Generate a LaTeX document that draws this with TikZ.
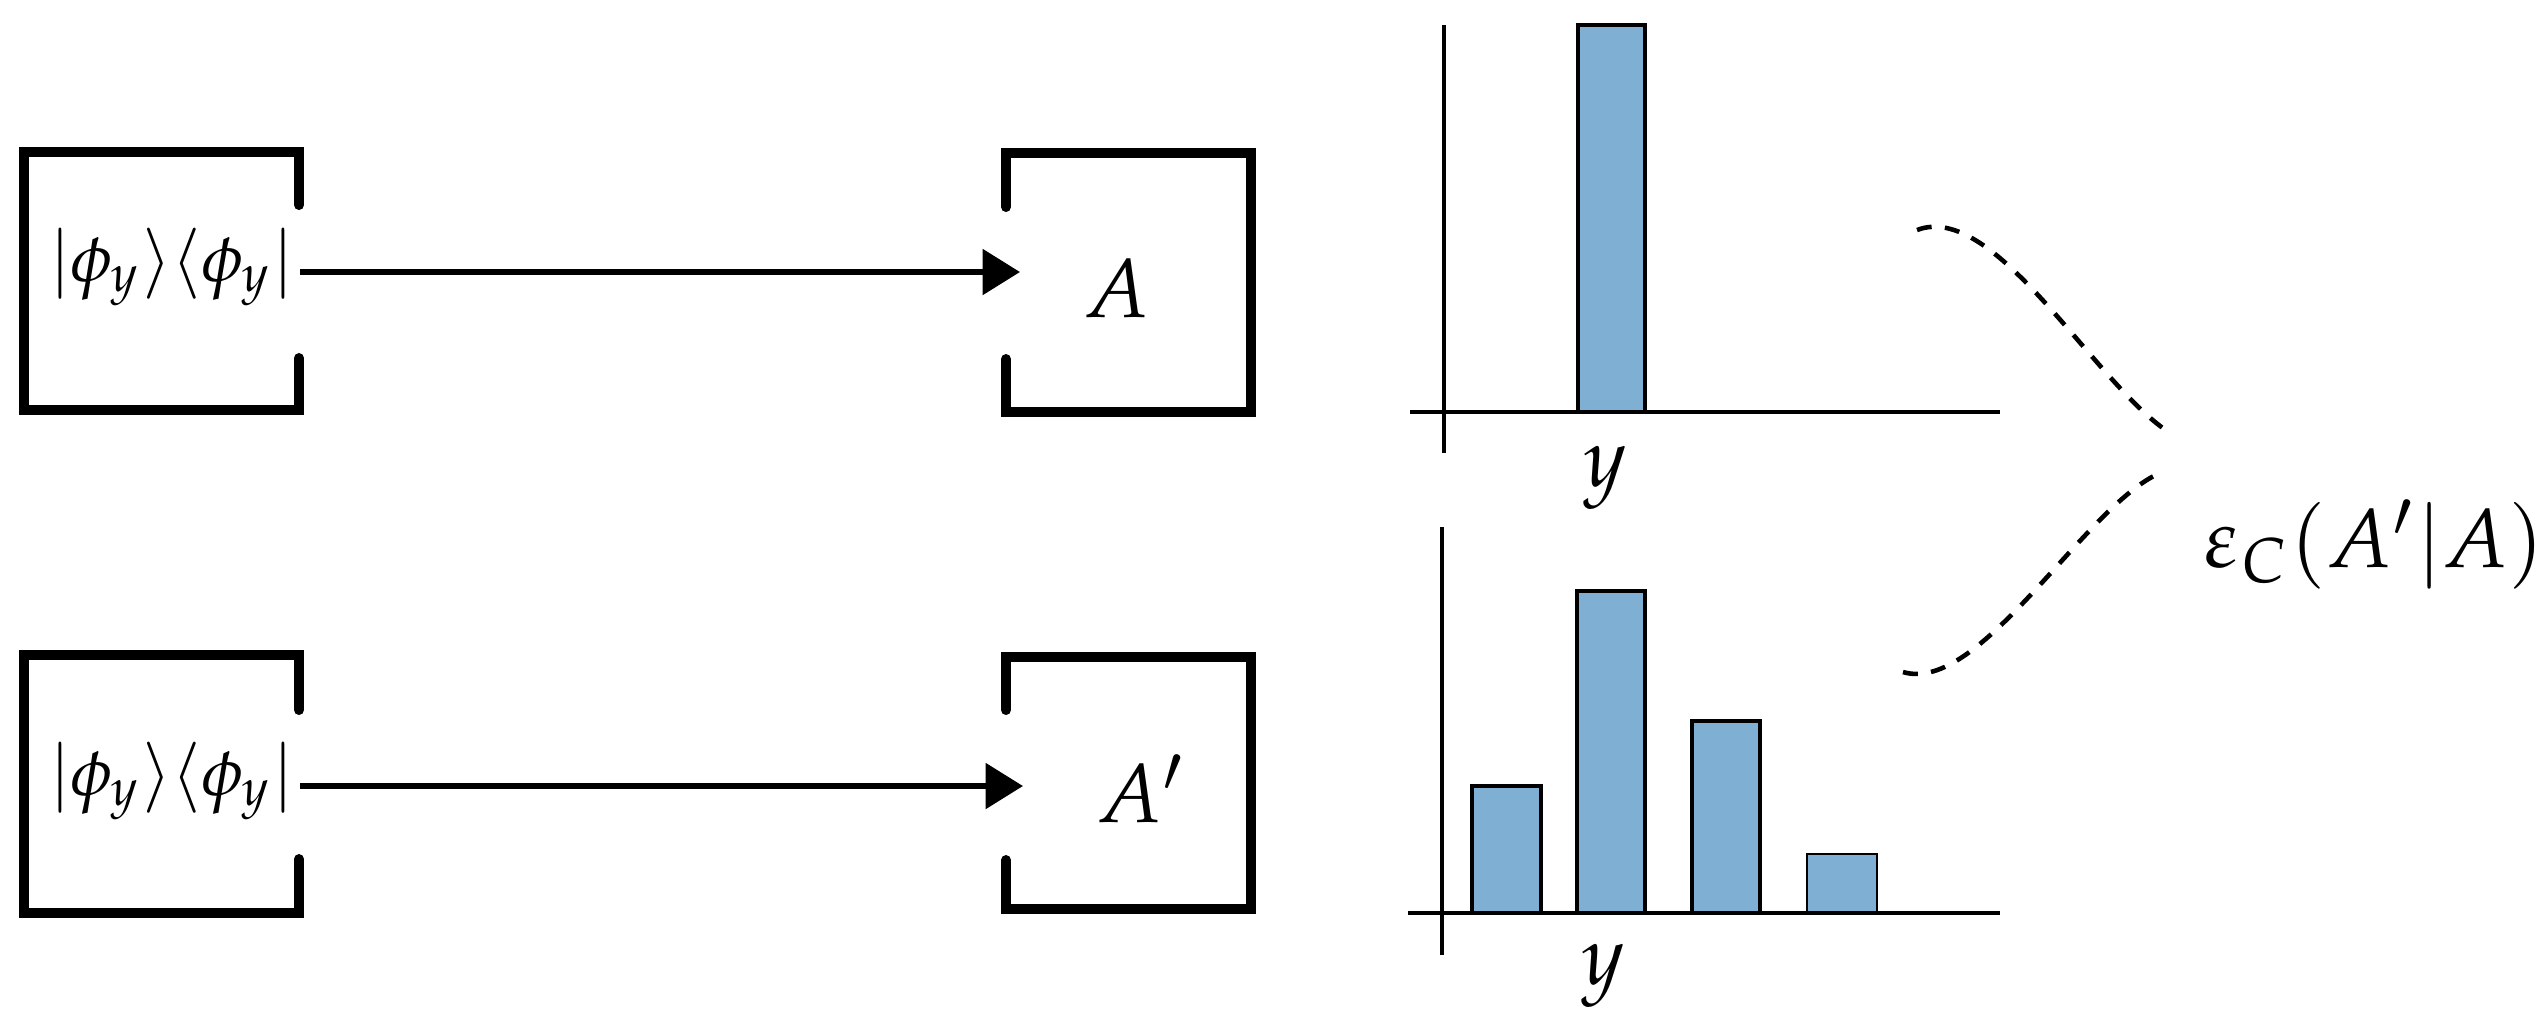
\documentclass[tikz,border=0pt]{standalone}
\usepackage{mathpazo}
\usetikzlibrary{arrows.meta}
\definecolor{barblue}{RGB}{128,175,212}
\tikzset{
  frame/.style={line width=1.2pt, line cap=round, line join=miter},
  arr/.style={line width=0.7pt, -{Triangle[length=4.5pt,width=5.4pt]}},
  axis/.style={line width=0.55pt},
  bar/.style={fill=barblue, draw=black, line width=0.4pt},
  thinbar/.style={fill=barblue, draw=black, line width=0.15pt},
  brace/.style={line width=0.55pt, dash pattern=on 1.8pt off 1.6pt},
  lbl/.style={inner sep=0pt, font=\fontsize{10}{12}\selectfont},
  ketlbl/.style={inner sep=0pt, font=\fontsize{8.2}{10}\selectfont}
}
\begin{document}
\begin{tikzpicture}[x=0.12pt,y=-0.12pt]
\useasboundingbox (0,0) rectangle (2540,1021);
% ---- top row ----
\draw[frame] (299,205) -- (299,152) -- (24,152) -- (24,410) -- (299,410) -- (299,358);
\draw[frame] (1006,207) -- (1006,153) -- (1251,153) -- (1251,412) -- (1006,412) -- (1006,359);
\node[ketlbl] (ka) at (172,267) {$|\phi_y\rangle\langle\phi_y|$};
\node[lbl, anchor=base] (outa) at (1116,317) {$A$};
\coordinate (sa) at (300,272);
\coordinate (ta) at (1020,272);
\draw[arr] (sa) -- (ta);
% ---- bottom row ----
\draw[frame] (299,710) -- (299,655) -- (24,655) -- (24,913) -- (299,913) -- (299,859);
\draw[frame] (1006,710) -- (1006,657) -- (1251,657) -- (1251,909) -- (1006,909) -- (1006,860);
\node[ketlbl] (kb) at (172,781) {$|\phi_y\rangle\langle\phi_y|$};
\node[lbl, anchor=base] (outb) at (1141,822) {$A'$};
\coordinate (sb) at (300,786);
\coordinate (tb) at (1023,786);
\draw[arr] (sb) -- (tb);
% ---- top chart ----
\draw[bar] (1578,25) rectangle (1645,412);
\draw[axis] (1444,25) -- (1444,453);
\draw[axis] (1410,412) -- (2000,412);
\node[lbl, anchor=north] (ya) at (1605,445) {$y$};
% ---- bottom chart ----
\draw[bar] (1472,786) rectangle (1541,913);
\draw[bar] (1577,591) rectangle (1645,913);
\draw[bar] (1692,721) rectangle (1760,913);
\draw[thinbar] (1807,854) rectangle (1877,913);
\draw[axis] (1442,527) -- (1442,955);
\draw[axis] (1408,913) -- (2000,913);
\node[lbl, anchor=north] (yb) at (1603,943) {$y$};
% ---- braces and label ----
\node[lbl, anchor=base west] (ec) at (2203,567) {$\varepsilon_C(A'|A)$};
\coordinate (ua) at (1917,230);
\coordinate (ub) at (2170,433);
\coordinate (la) at (1903,672);
\coordinate (lb) at (2160,473);
\draw[brace] (ua) .. controls (1995,200) and (2095,385) .. (ub);
\draw[brace] (la) .. controls (1980,695) and (2085,505) .. (lb);
\end{tikzpicture}
\end{document}
